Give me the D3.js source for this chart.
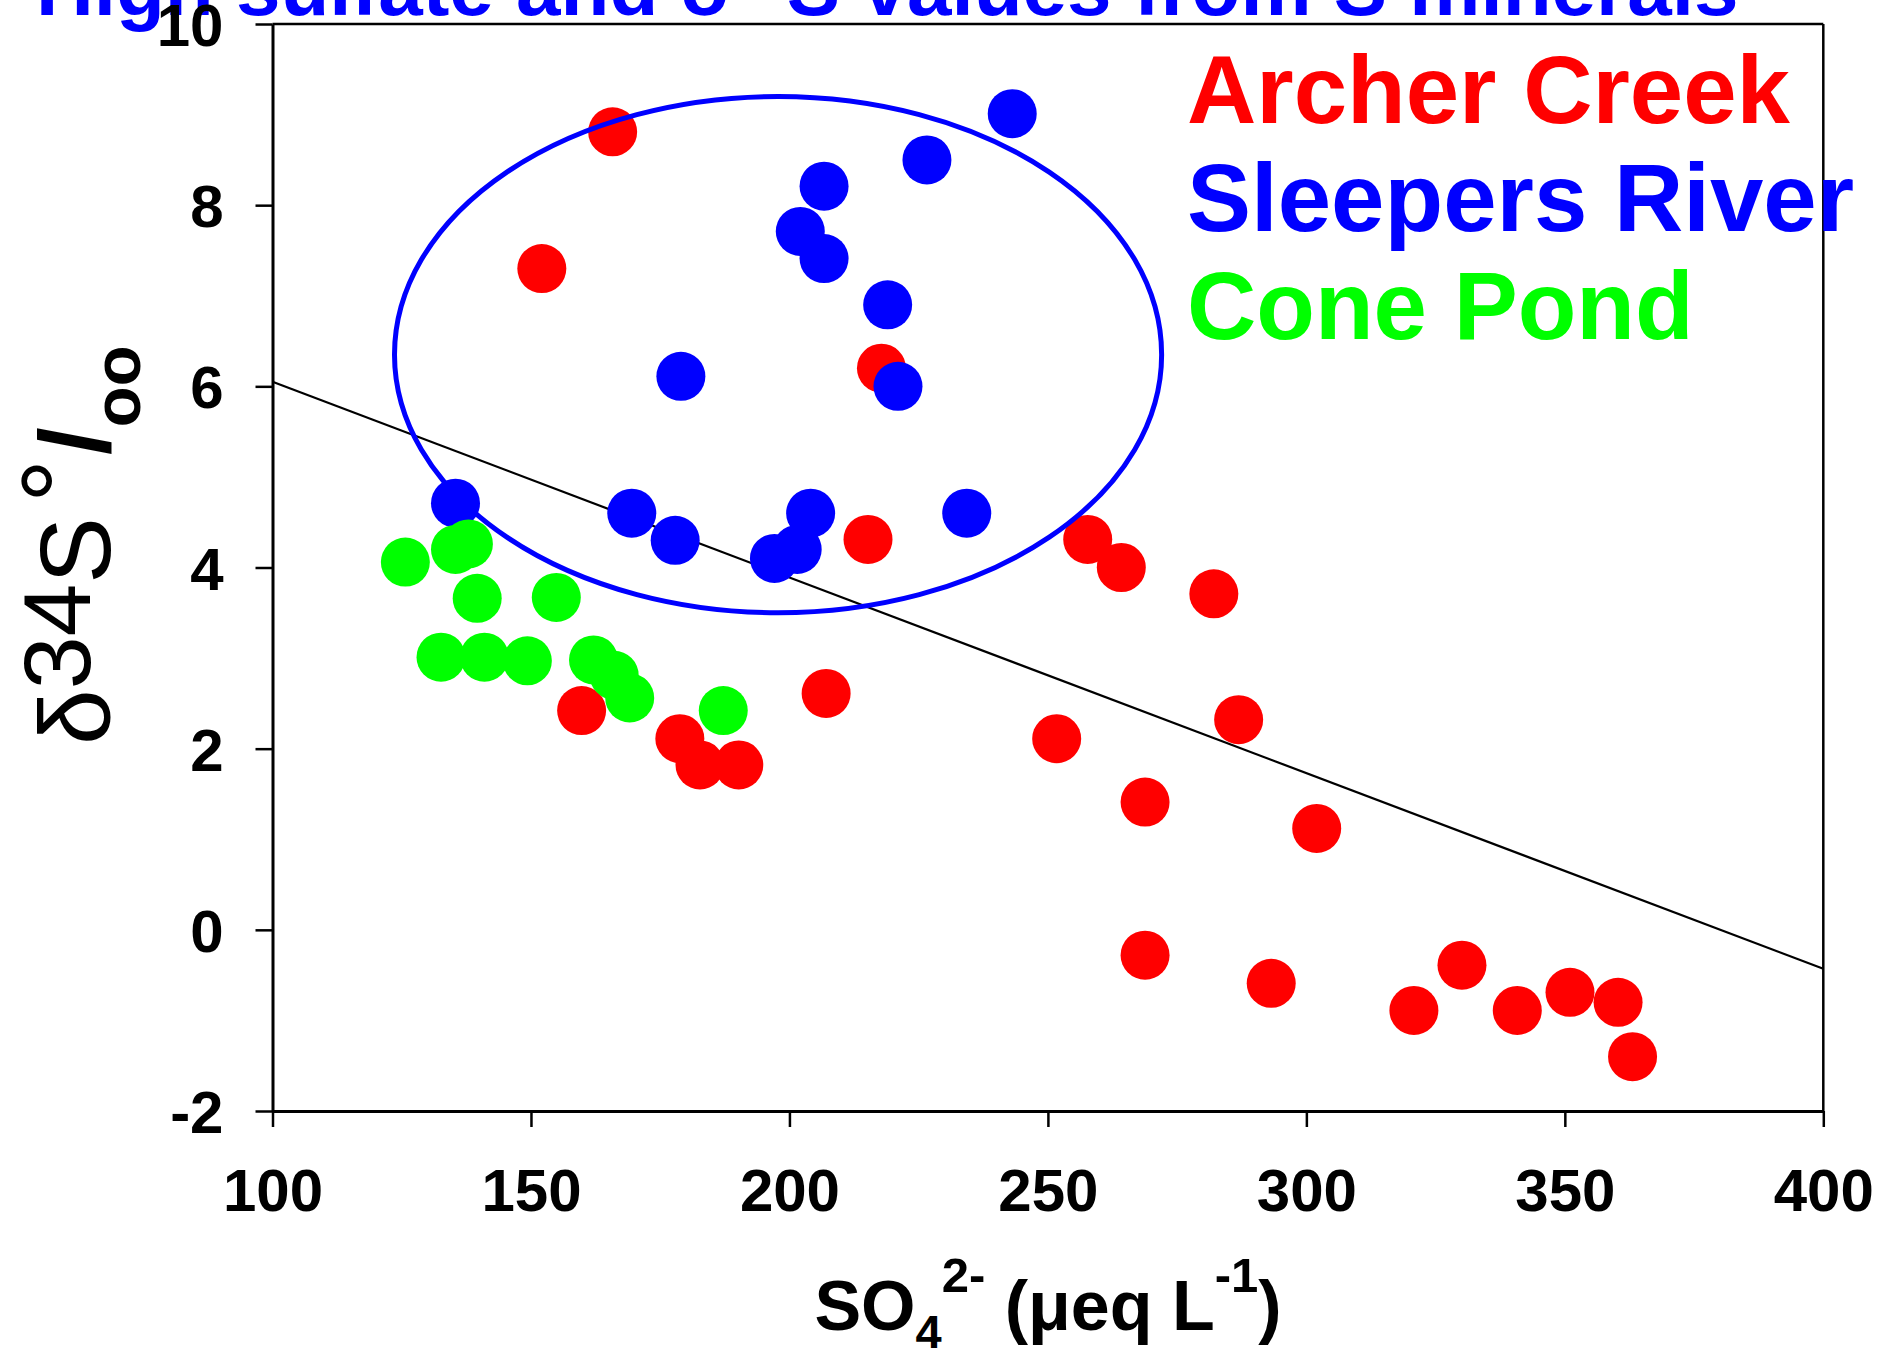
<!DOCTYPE html>
<html>
<head>
<meta charset="utf-8">
<script src="https://cdn.jsdelivr.net/npm/d3@7"></script>
<style>
  html, body { margin: 0; padding: 0; background: #fff; }
  svg { display: block; }
  text { font-family: "Liberation Sans", Arial, Helvetica, sans-serif; }
</style>
</head>
<body>
<svg id="chart" width="1880" height="1350"></svg>
<script>
// ---------- data ----------
const archerX = [165.8, 152.1, 217.8, 215.2, 159.8, 178.8, 182.7, 190.2, 207.1, 257.7, 264.2, 282.1, 286.9, 251.7, 268.8, 302.0, 268.8, 293.2, 320.8, 330.1, 340.8, 351.0, 360.3, 363.1];
const archerY = [8.81, 7.30, 6.20, 4.31, 2.42, 2.11, 1.82, 1.82, 2.61, 4.31, 4.00, 3.71, 2.32, 2.11, 1.41, 1.12, -0.28, -0.59, -0.89, -0.39, -0.89, -0.69, -0.80, -1.40];
const sleepersX = [243.1, 226.6, 206.7, 202.1, 206.7, 219.0, 221.0, 179.0, 135.4, 169.5, 177.9, 197.1, 201.5, 204.1, 234.3];
const sleepersY = [9.01, 8.50, 8.21, 7.71, 7.41, 6.90, 6.00, 6.11, 4.71, 4.60, 4.30, 4.10, 4.20, 4.60, 4.60];
const coneX = [125.7, 135.4, 137.9, 139.6, 154.9, 132.6, 141.0, 149.3, 162.1, 166.1, 169.1, 187.2];
const coneY = [4.06, 4.20, 4.26, 3.66, 3.67, 3.01, 3.01, 2.97, 2.98, 2.81, 2.56, 2.42];
const seriesNames = ["Archer Creek", "Sleepers River", "Cone Pond"];
const seriesColors = ["#FF0000", "#0000FF", "#00FF00"];
const xTicks = [100, 150, 200, 250, 300, 350, 400];
const yTicks = [-2, 0, 2, 4, 6, 8, 10];
const fitX = [100, 400];
const fitY = [6.05, -0.43];
const ellipseCenter = [197.8, 6.35];
const ellipseRadii = [74.2, 2.85];
const titleText = ["High sulfate and δ", "34", "S values from S minerals"];

// ---------- layout ----------
const svg = d3.select("#chart");
svg.append("rect").attr("width", 1880).attr("height", 1350).attr("fill", "#fff");

const x = d3.scaleLinear().domain([100, 400]).range([272.5, 1823.3]);
const y = d3.scaleLinear().domain([-2, 10]).range([1111, 24]);

// title (partially cut off at top, as in the original)
const title = svg.append("text")
  .attr("x", 36).attr("y", 15)
  .attr("fill", "#0000FF").attr("font-weight", "bold").attr("font-size", 80);
title.append("tspan").text(titleText[0]);
title.append("tspan").attr("font-size", 52).attr("dy", -36).text(titleText[1]);
title.append("tspan").attr("dy", 36).text(titleText[2]);

// regression line
svg.append("line")
  .attr("x1", x(fitX[0])).attr("y1", y(fitY[0]))
  .attr("x2", x(fitX[1])).attr("y2", y(fitY[1]))
  .attr("stroke", "#000").attr("stroke-width", 2.2);

// points
const series = [
  { xs: archerX, ys: archerY, color: seriesColors[0] },
  { xs: sleepersX, ys: sleepersY, color: seriesColors[1] },
  { xs: coneX, ys: coneY, color: seriesColors[2] }
];
series.forEach(s => {
  svg.append("g").selectAll("circle")
    .data(s.xs.map((v, i) => [v, s.ys[i]]))
    .join("circle")
    .attr("cx", d => x(d[0])).attr("cy", d => y(d[1]))
    .attr("r", 24.5).attr("fill", s.color);
});

// ellipse
svg.append("ellipse")
  .attr("cx", x(ellipseCenter[0])).attr("cy", y(ellipseCenter[1]))
  .attr("rx", x(ellipseCenter[0] + ellipseRadii[0]) - x(ellipseCenter[0]))
  .attr("ry", y(ellipseCenter[1]) - y(ellipseCenter[1] + ellipseRadii[1]))
  .attr("fill", "none").attr("stroke", "#0000FF").attr("stroke-width", 5);

// axes
const fmt = d => String(d);
const yAxis = svg.append("g").attr("transform", `translate(${x(100)},0)`)
  .call(d3.axisLeft(y).tickValues(yTicks).tickSize(17).tickSizeOuter(0).tickPadding(32).tickFormat(fmt));
const xAxis = svg.append("g").attr("transform", `translate(0,${y(-2)})`)
  .call(d3.axisBottom(x).tickValues(xTicks).tickSize(16).tickSizeOuter(0).tickPadding(41).tickFormat(fmt));
[yAxis, xAxis].forEach(g => {
  g.select(".domain").attr("stroke", "#000").attr("stroke-width", 3);
  g.selectAll(".tick line").attr("stroke", "#000").attr("stroke-width", 2.5);
  g.selectAll(".tick text")
    .attr("fill", "#000").attr("font-size", 60).attr("font-weight", "bold")
    .attr("font-family", "'Liberation Sans', Arial, sans-serif");
});
yAxis.selectAll(".tick text").attr("dy", "0.36em");
xAxis.selectAll(".tick text").attr("dy", "0.72em");

// frame top and right
svg.append("line").attr("x1", x(100)).attr("x2", x(400)).attr("y1", y(10)).attr("y2", y(10))
  .attr("stroke", "#000").attr("stroke-width", 2.5);
svg.append("line").attr("x1", x(400)).attr("x2", x(400)).attr("y1", y(10)).attr("y2", y(-2))
  .attr("stroke", "#000").attr("stroke-width", 2.5);

// legend
seriesNames.forEach((name, i) => {
  svg.append("text")
    .attr("x", 1187).attr("y", 123 + i * 108)
    .attr("fill", seriesColors[i]).attr("font-weight", "bold").attr("font-size", 96)
    .text(name);
});

// y axis title
const yt = svg.append("text")
  .attr("transform", "translate(110,745) rotate(-90)")
  .attr("fill", "#000").attr("font-size", 100);
yt.append("tspan").text("δ");
yt.append("tspan").attr("font-size", 95).attr("dy", -20).text("34");
yt.append("tspan").attr("dy", 20).text("S");
yt.append("tspan").attr("dx", 14).attr("dy", -12).attr("font-size", 110).text("°");
yt.append("tspan").attr("dx", 4).attr("dy", 12).attr("font-weight", "bold").text("/");
yt.append("tspan").attr("dy", 30).attr("font-weight", "bold").attr("font-size", 67).text("oo");

// x axis title
const xt = svg.append("text")
  .attr("x", 1048).attr("y", 1330).attr("text-anchor", "middle")
  .attr("fill", "#000").attr("font-weight", "bold").attr("font-size", 70);
xt.append("tspan").text("SO");
xt.append("tspan").attr("font-size", 47).attr("dy", 18).text("4");
xt.append("tspan").attr("font-size", 49).attr("dy", -56).text("2-");
xt.append("tspan").attr("dy", 38).text(" (μeq L");
xt.append("tspan").attr("font-size", 49).attr("dy", -38).text("-1");
xt.append("tspan").attr("dy", 38).text(")");
</script>
</body>
</html>
